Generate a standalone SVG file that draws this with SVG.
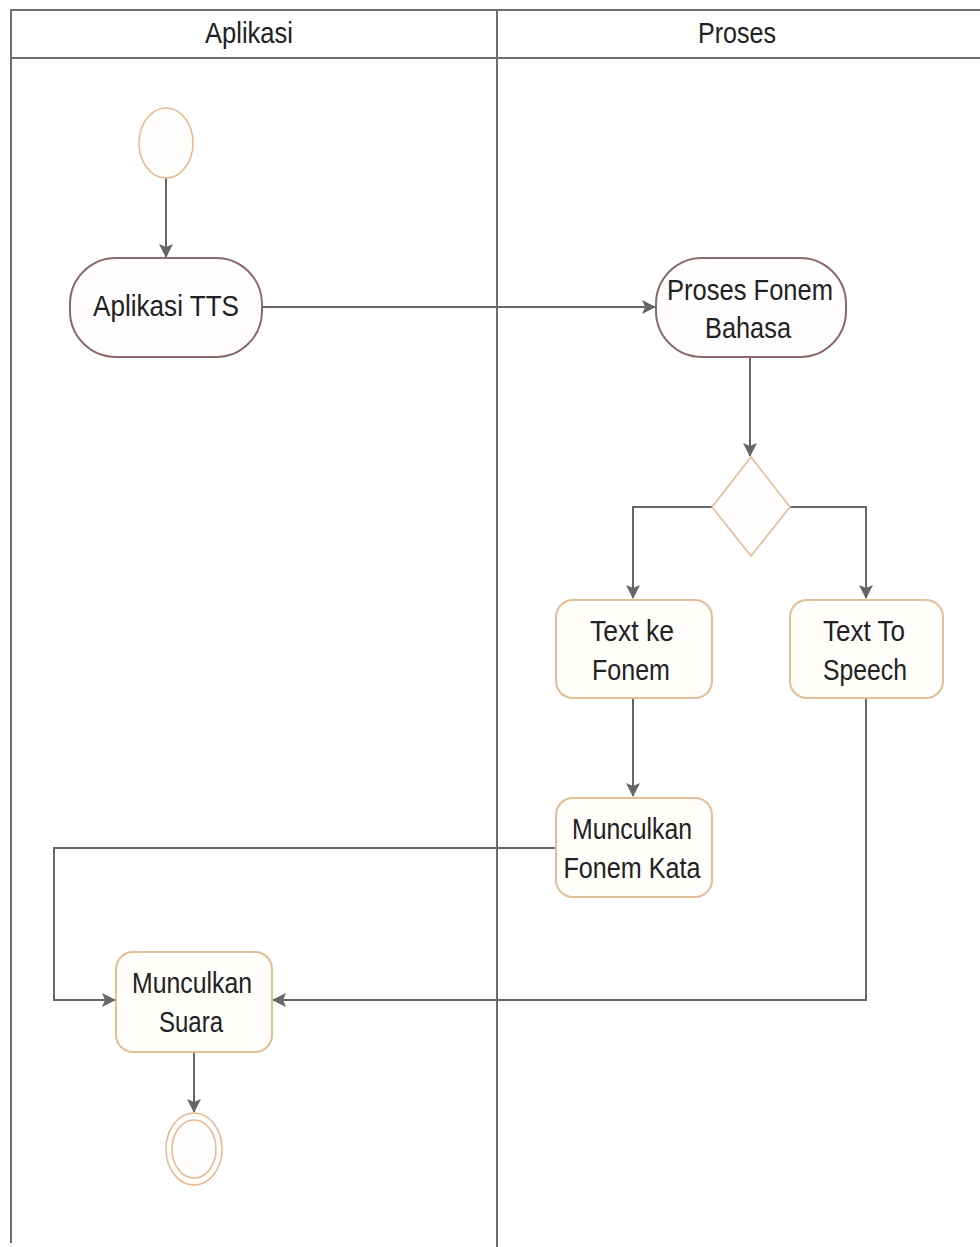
<svg xmlns="http://www.w3.org/2000/svg" width="980" height="1247" viewBox="0 0 980 1247">
  <defs>
    <style>
      .lane { fill: none; stroke: #6e6e6e; stroke-width: 2; }
      .lbl { font-family: "Liberation Sans", Arial, sans-serif; font-size: 30px; fill: #222; text-anchor: middle; }
      .state { fill: #fffdfd; stroke: #8a6a6a; stroke-width: 2; }
      .act { fill: #fffefb; stroke: #e3bf98; stroke-width: 2; }
      .start { fill: #fffefc; stroke: #e6b890; stroke-width: 1.5; }
      .flow { fill: none; stroke: #666; stroke-width: 2; }
    </style>
    <marker id="arrow" viewBox="0 0 14 14" refX="13" refY="7" markerWidth="14" markerHeight="14" markerUnits="userSpaceOnUse" orient="auto">
      <path d="M0,0 L14,7 L0,14 L3,7 Z" fill="#666"/>
    </marker>
  </defs>

  <rect width="980" height="1247" fill="#ffffff"/>

  <!-- swimlanes -->
  <g id="lanes">
    <path class="lane" d="M11,1243 V10 H980"/>
    <path class="lane" d="M11,58 H980"/>
    <path class="lane" d="M497,10 V1247"/>
    <text class="lbl" x="249" y="43" textLength="88" lengthAdjust="spacingAndGlyphs">Aplikasi</text>
    <text class="lbl" x="737" y="43" textLength="78" lengthAdjust="spacingAndGlyphs">Proses</text>
  </g>

  <!-- connectors -->
  <g id="connectors">
    <path class="flow" d="M166,178 V257" marker-end="url(#arrow)"/>
    <path class="flow" d="M262,307 H655" marker-end="url(#arrow)"/>
    <path class="flow" d="M750,358 V456" marker-end="url(#arrow)"/>
    <path class="flow" d="M712,507 H633 V598" marker-end="url(#arrow)"/>
    <path class="flow" d="M790,507 H866 V598" marker-end="url(#arrow)"/>
    <path class="flow" d="M633,698 V796" marker-end="url(#arrow)"/>
    <path class="flow" d="M556,848 H54 V1000 H115" marker-end="url(#arrow)"/>
    <path class="flow" d="M866,698 V1000 H273" marker-end="url(#arrow)"/>
    <path class="flow" d="M194,1052 V1112" marker-end="url(#arrow)"/>
  </g>

  <!-- initial node -->
  <g id="start">
    <ellipse class="start" cx="166" cy="143" rx="27" ry="35"/>
  </g>

  <g id="aplikasi-tts">
    <rect class="state" x="70" y="258" width="192" height="99" rx="46" ry="46"/>
    <text class="lbl" x="166" y="316" textLength="146" lengthAdjust="spacingAndGlyphs">Aplikasi TTS</text>
  </g>

  <g id="proses-fonem">
    <rect class="state" x="656" y="258" width="190" height="99" rx="46" ry="46"/>
    <text class="lbl" x="750" y="300" textLength="166" lengthAdjust="spacingAndGlyphs">Proses Fonem</text>
    <text class="lbl" x="748" y="338" textLength="86" lengthAdjust="spacingAndGlyphs">Bahasa</text>
  </g>

  <g id="decision">
    <polygon class="start" points="751,457 790,507 751,556 712,507"/>
  </g>

  <g id="text-ke-fonem">
    <rect class="act" x="556" y="600" width="156" height="98" rx="17" ry="17"/>
    <text class="lbl" x="632" y="641" textLength="84" lengthAdjust="spacingAndGlyphs">Text ke</text>
    <text class="lbl" x="631" y="680" textLength="78" lengthAdjust="spacingAndGlyphs">Fonem</text>
  </g>

  <g id="text-to-speech">
    <rect class="act" x="790" y="600" width="153" height="98" rx="17" ry="17"/>
    <text class="lbl" x="864" y="641" textLength="82" lengthAdjust="spacingAndGlyphs">Text To</text>
    <text class="lbl" x="865" y="680" textLength="84" lengthAdjust="spacingAndGlyphs">Speech</text>
  </g>

  <g id="munculkan-fonem-kata">
    <rect class="act" x="556" y="798" width="156" height="99" rx="17" ry="17"/>
    <text class="lbl" x="632" y="839" textLength="120" lengthAdjust="spacingAndGlyphs">Munculkan</text>
    <text class="lbl" x="632" y="878" textLength="137" lengthAdjust="spacingAndGlyphs">Fonem Kata</text>
  </g>

  <g id="munculkan-suara">
    <rect class="act" x="116" y="952" width="156" height="100" rx="17" ry="17"/>
    <text class="lbl" x="192" y="993" textLength="120" lengthAdjust="spacingAndGlyphs">Munculkan</text>
    <text class="lbl" x="191" y="1032" textLength="64" lengthAdjust="spacingAndGlyphs">Suara</text>
  </g>

  <!-- final node -->
  <g id="end">
    <ellipse class="start" cx="194" cy="1149" rx="28" ry="36"/>
    <ellipse class="start" cx="194" cy="1149" rx="22" ry="29"/>
  </g>
</svg>
